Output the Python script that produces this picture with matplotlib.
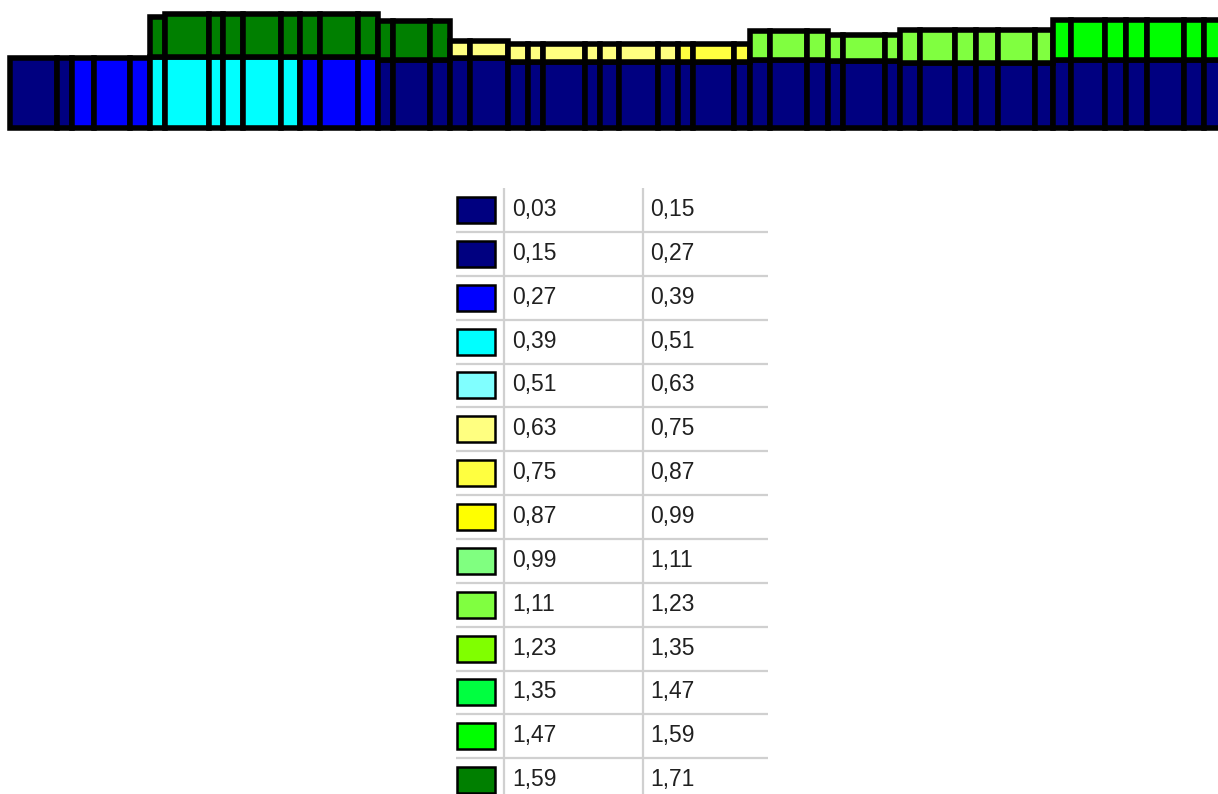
import numpy as np
import matplotlib.pyplot as plt
from matplotlib.colors import ListedColormap, BoundaryNorm
from matplotlib.patches import Rectangle

# value classes of the legend
class_bounds = [0.03, 0.15, 0.27, 0.39, 0.51, 0.63, 0.75, 0.87, 0.99,
                1.11, 1.23, 1.35, 1.47, 1.59, 1.71]
class_colors = ['#000080', '#000080', '#0000ff', '#00ffff', '#80ffff',
                '#ffff80', '#ffff40', '#ffff00', '#80ff80', '#80ff40',
                '#80ff00', '#00ff40', '#00ff00', '#007f00']

# cell edges along the profile
edges = [10, 57, 72, 94, 130, 150, 165, 209, 223, 243, 281, 300, 320, 358,
         378, 393, 430, 450, 470, 508, 528, 543, 585, 600, 619, 658, 678,
         693, 734, 750, 770, 807, 828, 843, 885, 900, 920, 955, 976, 998,
         1035, 1053, 1071, 1105, 1126, 1147, 1184, 1204, 1225]

# lower layer: value and thickness of each cell
low_val = [0.10, 0.10, 0.33, 0.33, 0.33,
           0.45, 0.45, 0.45, 0.45, 0.45, 0.45,
           0.33, 0.33, 0.33] + [0.20] * 34
low_thk = [70] * 5 + [71] * 9 + [68] * 3 + [70] * 2 + [66] * 10 + \
          [68] * 3 + [67] * 3 + [65] * 6 + [68] * 7

# upper layer (0 thickness = no upper layer)
up_val = [np.nan] * 5 + [1.65] * 12 + [0.69] * 9 + [0.80] * 3 + \
         [1.17] * 12 + [1.53] * 7
up_thk = [0] * 5 + [40] + [43] * 8 + [39] * 3 + [17] * 2 + [18] * 10 + \
         [29] * 3 + [26] * 3 + [33] * 6 + [40] * 7

cmap = ListedColormap(class_colors)
norm = BoundaryNorm(class_bounds, cmap.N)

W, H = 1218, 794
fig = plt.figure(figsize=(W / 100, H / 100), dpi=100)

# legend table
lg = fig.add_axes([0, 0, 1, 1])
lg.set_xlim(0, W)
lg.set_ylim(H, 0)
lg.axis('off')
row_y0, row_dy = 210, 43.85
n = len(class_colors)
for i in range(n):
    y = row_y0 + i * row_dy
    lg.add_patch(Rectangle((457, y - 13), 38, 26, fc=class_colors[i],
                           ec='black', lw=1.8))
    lo = f'{class_bounds[i]:.2f}'.replace('.', ',')
    hi = f'{class_bounds[i + 1]:.2f}'.replace('.', ',')
    lg.text(512, y + 6, lo, fontsize=16.5, family='Liberation Sans',
            color='#202020', va='baseline')
    lg.text(650, y + 6, hi, fontsize=16.5, family='Liberation Sans',
            color='#202020', va='baseline')
    if i < n - 1:
        lg.hlines(y + 22, 456, 768, color='#d0d0d0', lw=1.6)
lg.vlines([504, 643], 188, H, color='#d0d0d0', lw=1.6)

# profile strip
ax = fig.add_axes([0, 1 - 140 / H, 1, 140 / H])
ax.set_xlim(0, W)
ax.set_ylim(-12, 128)
ax.axis('off')

left = np.array(edges[:-1])
width = np.diff(edges)
low_thk = np.array(low_thk)
up_thk = np.array(up_thk)
up_val = np.array(up_val)

ax.bar(left, low_thk, width, align='edge', color=cmap(norm(low_val)),
       edgecolor='black', linewidth=4)
m = up_thk > 0
ax.bar(left[m], up_thk[m], width[m], bottom=low_thk[m], align='edge',
       color=cmap(norm(up_val[m])), edgecolor='black', linewidth=4)

fig.savefig('out.png', dpi=100)
